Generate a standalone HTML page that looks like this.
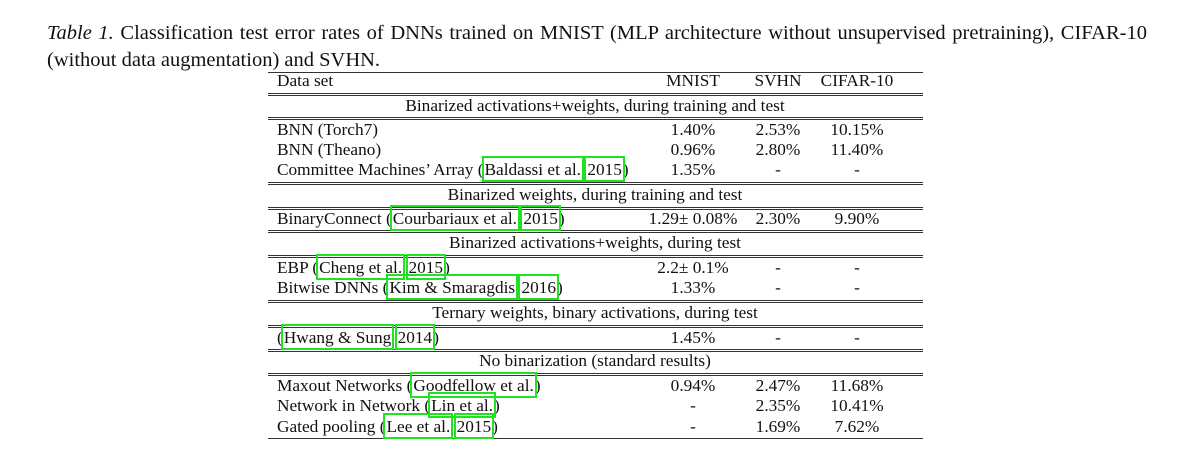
<!DOCTYPE html>
<html><head><meta charset="utf-8"><style>
body{margin:0;background:#fff;width:1192px;height:455px;position:relative;overflow:hidden;font-family:"Liberation Serif",serif;color:#111}
.cap{position:absolute;left:47px;width:1100px;font-size:20.5px;line-height:28px;white-space:nowrap}
.j{text-align:justify;text-align-last:justify;white-space:normal}
.r{position:absolute;font-size:17.3px;line-height:20px;white-space:nowrap}
.l{left:277px}
.c{transform:translateX(-50%)}
.hl{position:absolute;left:268px;width:655px;height:1px;background:#333}
.b{outline:2px solid #22e022;outline-offset:0px;padding:2px 1px 1px 1px}
</style></head><body>
<div class="cap j" style="top:19px"><i>Table 1.</i> Classification test error rates of DNNs trained on MNIST (MLP architecture without unsupervised pretraining), CIFAR-10</div>
<div class="cap" style="top:46px">(without data augmentation) and SVHN.</div>
<div id="t"></div>
<script>
const t=document.getElementById('t');
function line(y){const d=document.createElement('div');d.className='hl';d.style.top=y+'px';


t.appendChild(d);}
function txt(x,y,h,cls,name){const d=document.createElement('div');d.className='r '+cls;d.style.top=(y-10)+'px';if(x!==null)d.style.left=x+'px';d.innerHTML=h;


t.appendChild(d);}
[72].forEach(line);
[93,95,117,119,182,184,207,209,230,232,255,257,300,302,325,327,349,351,373,375,438].forEach(line);
const cols=[693,778,857];
txt(null,81,'Data set','l','header-dataset');
['MNIST','SVHN','CIFAR-10'].forEach((s,i)=>txt(cols[i],81,s,'c','header-'+s.toLowerCase()));
const sections=[[106,'Binarized activations+weights, during training and test'],[195,'Binarized weights, during training and test'],[243,'Binarized activations+weights, during test'],[313,'Ternary weights, binary activations, during test'],[361,'No binarization (standard results)']];
sections.forEach(s=>txt(595,s[0],s[1],'c','section-label'));
const B=s=>'<span class="b">'+s+'</span>';
const rows=[
[130,'BNN (Torch7)','1.40%','2.53%','10.15%'],
[150,'BNN (Theano)','0.96%','2.80%','11.40%'],
[170,'Committee Machines’ Array ('+B('Baldassi et al.')+' '+B('2015')+')','1.35%','-','-'],
[219,'BinaryConnect ('+B('Courbariaux et al.')+' '+B('2015')+')','1.29± 0.08%','2.30%','9.90%'],
[268,'EBP ('+B('Cheng et al.')+' '+B('2015')+')','2.2± 0.1%','-','-'],
[288,'Bitwise DNNs ('+B('Kim &amp; Smaragdis')+' '+B('2016')+')','1.33%','-','-'],
[338,'('+B('Hwang &amp; Sung')+' '+B('2014')+')','1.45%','-','-'],
[386,'Maxout Networks ('+B('Goodfellow et al.')+')','0.94%','2.47%','11.68%'],
[406,'Network in Network ('+B('Lin et al.')+')','-','2.35%','10.41%'],
[427,'Gated pooling ('+B('Lee et al.')+' '+B('2015')+')','-','1.69%','7.62%']];
rows.forEach(r=>{txt(null,r[0],r[1],'l','row-method');for(let i=0;i<3;i++)txt(cols[i],r[0],r[2+i],'c','row-value');});
</script>
</body></html>
